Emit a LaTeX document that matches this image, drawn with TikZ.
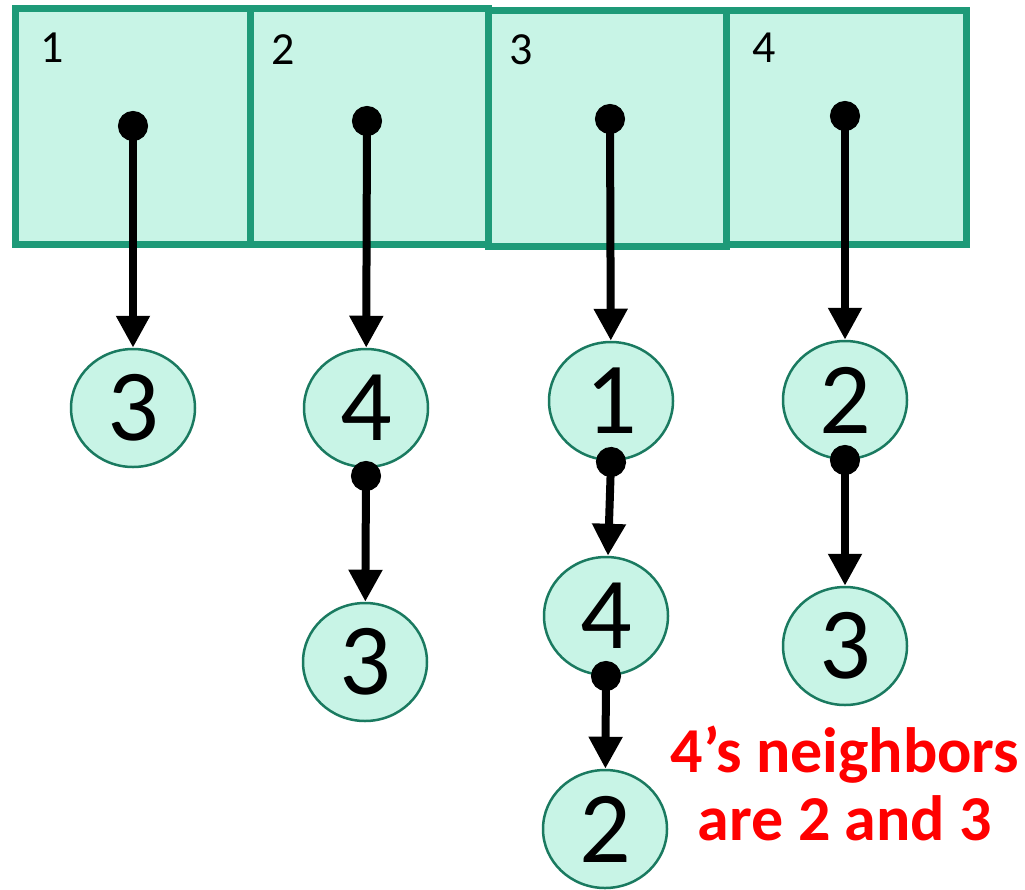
\documentclass[tikz,border=0pt]{standalone}
\usepackage{fontspec}
\setmainfont{Carlito}
\usetikzlibrary{arrows.meta,shapes.geometric}
\definecolor{cellfill}{HTML}{C8F4E6}
\definecolor{cellline}{HTML}{1E9A78}
\definecolor{nodeline}{HTML}{1A7A60}
\definecolor{notered}{HTML}{FF0000}
\begin{document}
\begin{tikzpicture}[x=1pt,y=-1pt,
  cell/.style={draw=cellline,fill=cellfill,line width=7pt},
  idx/.style={font=\fontsize{46}{52}\selectfont,anchor=center},
  item/.style={ellipse,draw=nodeline,fill=cellfill,line width=2.5pt,
    minimum width=124pt,minimum height=118pt,inner sep=0pt,
    font=\fontsize{102}{116}\selectfont},
  link/.style={line width=8pt,{Circle[length=30pt]}-{Triangle[width=32pt,length=32pt]},shorten <=-15pt},
  note/.style={text=notered,font=\fontsize{64}{68}\bfseries\selectfont,align=center}]
\useasboundingbox (0,0) rectangle (1025,889);
% adjacency array
\draw[cell] (15,8) rectangle (250,244);
\draw[cell] (250,8) rectangle (488,244);
\draw[cell] (488,10) rectangle (726,246);
\draw[cell] (726,10) rectangle (966,244);
\node[idx] (i1) at (52,48) {1};
\node[idx] (i2) at (283,50) {2};
\node[idx] (i3) at (521,50) {3};
\node[idx] (i4) at (764,48) {4};
% list heads
\coordinate (h1) at (133,126);
\coordinate (h2) at (367,121);
\coordinate (h3) at (610,119);
\coordinate (h4) at (845,116);
% list entries
\node[item] (a1) at (133,408) {3};
\node[item] (b1) at (366,408) {4};
\node[item] (b2) at (365,662) {3};
\node[item] (c1) at (611,401) {1};
\node[item] (c2) at (606,616) {4};
\node[item] (c3) at (605,829) {2};
\node[item] (d1) at (845,400) {2};
\node[item] (d2) at (845,646) {3};
% next pointers
\coordinate (pb1) at (366,476);
\coordinate (pc1) at (611,462);
\coordinate (pc2) at (606,676);
\coordinate (pd1) at (845,460);
\draw[link] (h1) -- (a1);
\draw[link] (h2) -- (b1);
\draw[link] (h3) -- (c1);
\draw[link] (h4) -- (d1);
\draw[link] (pb1) -- (b2);
\draw[link] (pc1) -- (c2);
\draw[link] (pc2) -- (c3);
\draw[link] (pd1) -- (d2);
\node[note] (n) at (845,783) {4’s neighbors\\are 2 and 3};
\end{tikzpicture}
\end{document}
